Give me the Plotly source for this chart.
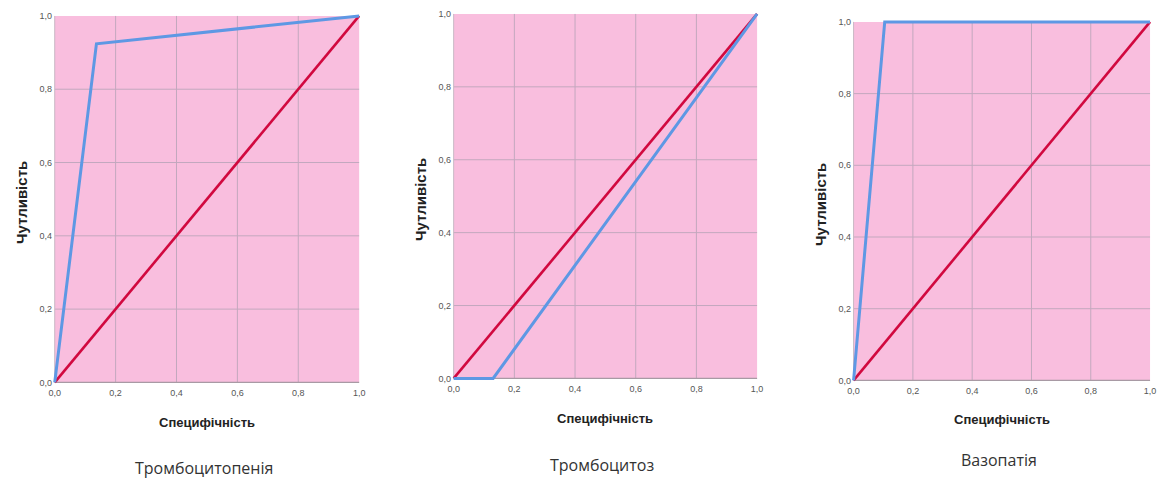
import plotly.graph_objects as go

W, H = 1163, 481

# ---- data ----
titles = ["Тромбоцитопенія", "Тромбоцитоз", "Вазопатія"]
spec_1 = [0.0, 0.137, 1.0]
sens_1 = [0.0, 0.924, 1.0]
spec_2 = [0.0, 0.13, 1.0]
sens_2 = [0.0, 0.0, 1.0]
spec_3 = [0.0, 0.105, 1.0]
sens_3 = [0.0, 1.0, 1.0]
ref_x = [0.0, 1.0]
ref_y = [0.0, 1.0]
tick_vals = [0.0, 0.2, 0.4, 0.6, 0.8, 1.0]
tick_text = ["0,0", "0,2", "0,4", "0,6", "0,8", "1,0"]
x_title = "Специфічність"
y_title = "Чутливість"

# pixel boxes of the [0,1] square for each panel: (x0, x1, ytop, ybottom)
boxes = [(52, 358, 15, 383), (453, 758, 13, 379), (855, 1153, 21, 381)]
ylab_x = [18, 419, 821]
xtitle_y = [423, 419, 420]
label_y = [469, 466, 461]

PINK = "#F9BEDE"
GRID = "#C3A8BE"
BLUE = "#5E98E4"
RED = "#D1093F"
E = 0.012  # range padding so edge lines are not clipped

series = [(spec_1, sens_1), (spec_2, sens_2), (spec_3, sens_3)]

fig = go.Figure()
layout = dict(
    width=W, height=H, margin=dict(l=0, r=0, t=0, b=0),
    paper_bgcolor="white", plot_bgcolor="rgba(0,0,0,0)",
    showlegend=False, shapes=[], annotations=[],
)

for i, ((x0, x1, yt, yb), (sx, sy)) in enumerate(zip(boxes, series)):
    n = "" if i == 0 else str(i + 1)
    xa, ya = "x" + n, "y" + n
    pw = x1 - x0
    ph = yb - yt
    dx0 = (x0 - E * pw) / W
    dx1 = (x1 + E * pw) / W
    dy0 = 1 - (yb + E * ph) / H
    dy1 = 1 - (yt - E * ph) / H
    layout["xaxis" + n] = dict(
        domain=[dx0, dx1], range=[-E, 1 + E], anchor=ya,
        tickvals=tick_vals, ticktext=tick_text, showgrid=False, zeroline=False,
        showline=False, ticks="", tickfont=dict(family="Liberation Sans", size=9, color="#555"),
        ticklabelstandoff=-1,
    )
    layout["yaxis" + n] = dict(
        domain=[dy0, dy1], range=[-E, 1 + E], anchor=xa,
        tickvals=tick_vals, ticktext=tick_text, showgrid=False, zeroline=False,
        showline=False, ticks="", tickfont=dict(family="Liberation Sans", size=9, color="#555"),
        ticklabelstandoff=-2,
    )
    # pink plot square
    layout["shapes"].append(dict(type="rect", xref=xa, yref=ya, x0=0, x1=1, y0=0, y1=1,
                                 fillcolor=PINK, line=dict(width=0), layer="below"))
    for v in tick_vals[1:-1]:
        layout["shapes"].append(dict(type="line", xref=xa, yref=ya, x0=v, x1=v, y0=0, y1=1,
                                     line=dict(color=GRID, width=1), layer="below"))
        layout["shapes"].append(dict(type="line", xref=xa, yref=ya, x0=0, x1=1, y0=v, y1=v,
                                     line=dict(color=GRID, width=1), layer="below"))
    # axis lines left & bottom
    layout["shapes"].append(dict(type="line", xref=xa, yref=ya, x0=0, x1=1, y0=0, y1=0,
                                 line=dict(color="#A89AA4", width=1.2), layer="below"))
    layout["shapes"].append(dict(type="line", xref=xa, yref=ya, x0=0, x1=0, y0=0, y1=1,
                                 line=dict(color="#C8B8C4", width=1), layer="below"))

    fig.add_trace(go.Scatter(x=ref_x, y=ref_y, mode="lines", xaxis=xa, yaxis=ya,
                             line=dict(color=RED, width=2.6), hoverinfo="skip"))
    fig.add_trace(go.Scatter(x=sx, y=sy, mode="lines", xaxis=xa, yaxis=ya,
                             line=dict(color=BLUE, width=3), hoverinfo="skip"))

    cx = (x0 + x1) / 2 / W
    layout["annotations"].append(dict(
        text="<b>" + x_title + "</b>", xref="paper", yref="paper", x=cx, y=1 - xtitle_y[i] / H,
        xanchor="center", yanchor="middle", showarrow=False,
        font=dict(family="Liberation Sans", size=13, color="#222")))
    layout["annotations"].append(dict(
        text="<b>" + y_title + "</b>", xref="paper", yref="paper", x=ylab_x[i] / W,
        y=1 - ((yt + yb) / 2 + 3) / H, textangle=-90,
        xanchor="center", yanchor="middle", showarrow=False,
        font=dict(family="Liberation Sans", size=15, color="#222")))
    layout["annotations"].append(dict(
        text=titles[i], xref="paper", yref="paper", x=cx - 3 / W, y=1 - label_y[i] / H,
        xanchor="center", yanchor="middle", showarrow=False,
        font=dict(family="Open Sans", size=16, color="#333")))

fig.update_layout(**layout)
fig.write_html("out.html")
